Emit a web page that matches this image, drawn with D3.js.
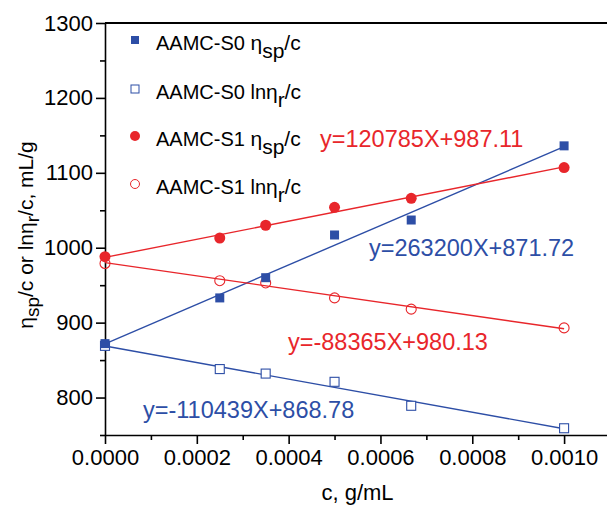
<!DOCTYPE html>
<html>
<head>
<meta charset="utf-8">
<script src="https://cdn.jsdelivr.net/npm/d3@7"></script>
<style>
  body { margin: 0; background: #fff; }
  svg { display: block; font-family: "Liberation Sans", Arial, sans-serif; }
  .axis path, .axis line { stroke: #000; stroke-width: 1.6; }
  .axis text { font-size: 22px; fill: #000; }
  .legend text { font-family: "Liberation Sans Narrow", "Liberation Sans", Arial, sans-serif; }
</style>
</head>
<body>
<svg id="chart" width="607" height="508"></svg>
<script>
// concentrations, g/mL
const conc = [0, 0.00025, 0.00035, 0.0005, 0.000667, 0.001];

// measured values, mL/g
const s0Sp = [872, 933, 960, 1017, 1037, 1136];
const s0Ln = [869, 838, 832, 821, 789, 759];
const s1Sp = [988, 1013, 1030, 1054, 1066, 1107];
const s1Ln = [979, 956, 953, 933, 918, 893];

// linear fits [slope, intercept]
const fitS0Sp = [263200, 871.72];
const fitS0Ln = [-110439, 868.78];
const fitS1Sp = [120785, 987.11];
const fitS1Ln = [-88365, 980.13];

const xTicks = [0, 0.0002, 0.0004, 0.0006, 0.0008, 0.001];
const yTicks = [800, 900, 1000, 1100, 1200, 1300];

const blue = '#2d4ea6';
const red = '#e8262b';

const margin = { top: 23, left: 105 };
const width = 505;
const height = 412;

const svg = d3.select('#chart');
const g = svg.append('g')
  .attr('transform', 'translate(' + margin.left + ',' + margin.top + ')');

const x = d3.scaleLinear().domain([0, 0.0011]).range([0, width]);
const y = d3.scaleLinear().domain([750, 1300]).range([height, 0]);

// minor ticks
const xMinor = d3.range(0.0001, 0.0011, 0.0002);
const yMinor = d3.range(750, 1300, 100);

g.append('g').attr('class', 'axis')
  .attr('transform', 'translate(0,' + height + ')')
  .call(d3.axisBottom(x).tickValues(xMinor).tickSize(5).tickFormat(''))
  .select('.domain').remove();
g.append('g').attr('class', 'axis')
  .call(d3.axisLeft(y).tickValues(yMinor).tickSize(5).tickFormat(''))
  .select('.domain').remove();

g.append('g').attr('class', 'axis')
  .attr('transform', 'translate(0,' + height + ')')
  .call(d3.axisBottom(x).tickValues(xTicks).tickSize(9).tickSizeOuter(0)
    .tickPadding(5).tickFormat(d3.format('.4f')));

g.append('g').attr('class', 'axis')
  .call(d3.axisLeft(y).tickValues(yTicks).tickSize(9).tickSizeOuter(0)
    .tickPadding(3).tickFormat(d3.format('d')));

// top frame
g.append('line')
  .attr('x1', 0).attr('x2', width)
  .attr('y1', 0).attr('y2', 0)
  .attr('stroke', '#000').attr('stroke-width', 2);

// fit lines
const fits = [
  [fitS0Sp, blue], [fitS0Ln, blue], [fitS1Sp, red], [fitS1Ln, red],
];
fits.forEach(function(f) {
  const p = f[0];
  g.append('line')
    .attr('x1', x(0)).attr('y1', y(p[1]))
    .attr('x2', x(0.001)).attr('y2', y(p[0] * 0.001 + p[1]))
    .attr('stroke', f[1]).attr('stroke-width', 1.4);
});

// markers
function drawSquares(vals, filled, color) {
  g.selectAll(null).data(vals).enter().append('rect')
    .attr('x', function(d, i) { return x(conc[i]) - 4.5; })
    .attr('y', function(d) { return y(d) - 4.5; })
    .attr('width', 9).attr('height', 9)
    .attr('fill', filled ? color : '#fff')
    .attr('stroke', color).attr('stroke-width', filled ? 0 : 1.1);
}
function drawCircles(vals, filled, color) {
  g.selectAll(null).data(vals).enter().append('circle')
    .attr('cx', function(d, i) { return x(conc[i]); })
    .attr('cy', function(d) { return y(d); })
    .attr('r', filled ? 5.5 : 5)
    .attr('fill', filled ? color : 'none')
    .attr('stroke', color).attr('stroke-width', filled ? 0 : 1.1);
}
drawCircles(s1Ln, false, red);
drawSquares(s0Ln, false, blue);
drawCircles(s1Sp, true, red);
drawSquares(s0Sp, true, blue);

// equation labels
const eqs = [
  ['y=120785X+987.11', red, 320, 147],
  ['y=263200X+871.72', blue, 369, 256],
  ['y=-88365X+980.13', red, 288, 350],
  ['y=-110439X+868.78', blue, 143, 418],
];
eqs.forEach(function(e) {
  svg.append('text')
    .attr('x', e[2]).attr('y', e[3])
    .attr('fill', e[1])
    .style('font-size', '23.5px')
    .text(e[0]);
});

// legend
const legend = [
  ['AAMC-S0 ', 'η', 'sp', 'square', true, blue, 40],
  ['AAMC-S0 ln', 'η', 'r', 'square', false, blue, 89],
  ['AAMC-S1 ', 'η', 'sp', 'circle', true, red, 136],
  ['AAMC-S1 ln', 'η', 'r', 'circle', false, red, 184],
];
const lg = svg.append('g').attr('class', 'legend');
legend.forEach(function(l) {
  const cx = 135, cy = l[6];
  if (l[3] === 'square') {
    lg.append('rect')
      .attr('x', cx - 4).attr('y', cy - 4).attr('width', 8).attr('height', 8)
      .attr('fill', l[4] ? l[5] : '#fff')
      .attr('stroke', l[5]).attr('stroke-width', l[4] ? 0 : 1);
  } else {
    lg.append('circle')
      .attr('cx', cx).attr('cy', cy).attr('r', l[4] ? 5 : 4.5)
      .attr('fill', l[4] ? l[5] : 'none')
      .attr('stroke', l[5]).attr('stroke-width', l[4] ? 0 : 1);
  }
  const t = lg.append('text')
    .attr('x', 156).attr('y', cy + 10)
    .style('font-size', '20px').attr('fill', '#000');
  t.append('tspan').text(l[0]);
  t.append('tspan').style('font-size', '21px').text(l[1]);
  t.append('tspan').attr('dy', 8).style('font-size', '21px').text(l[2]);
  t.append('tspan').attr('dy', -8).style('font-size', '21px').text('/c');
});

// axis titles
svg.append('text')
  .attr('x', margin.left + width / 2).attr('y', 500)
  .attr('text-anchor', 'middle')
  .style('font-size', '22px')
  .text('c, g/mL');

const yt = svg.append('text')
  .attr('transform', 'translate(33,' + 235 + ') rotate(-90)')
  .attr('text-anchor', 'middle')
  .style('font-size', '21px');
yt.append('tspan').text('η');
yt.append('tspan').attr('dy', 6).style('font-size', '19px').text('sp');
yt.append('tspan').attr('dy', -6).text('/c or ln');
yt.append('tspan').text('η');
yt.append('tspan').attr('dy', 6).style('font-size', '19px').text('r');
yt.append('tspan').attr('dy', -6).text('/c, mL/g');
</script>
</body>
</html>
